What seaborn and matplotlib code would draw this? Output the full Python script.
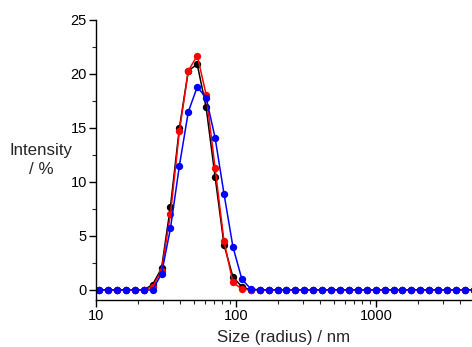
import numpy as np
import pandas as pd
import matplotlib
matplotlib.use('Agg')
import matplotlib.pyplot as plt
from matplotlib.ticker import MultipleLocator, LogLocator, NullFormatter
import seaborn as sns

# Size bins (radius, nm) of the instrument, from 10 nm up
size_nm = [10.52, 12.18, 14.11, 16.34, 18.92, 21.91, 25.37, 29.38, 34.02, 39.41,
           45.64, 52.85, 61.21, 70.89, 82.10, 95.06, 110.1, 127.5, 147.7, 171.0,
           198.0, 229.4, 265.6, 307.6, 356.2, 412.6, 477.8, 553.3, 640.8, 742.1,
           859.4, 995.0, 1152, 1335, 1546, 1790, 2073, 2401, 2780, 3220,
           3728, 4318, 5000]

zeros_tail = [0.0] * 26

black = [0, 0, 0, 0, 0, 0, 0.5, 2.0, 7.7, 15.0,
         20.3, 20.9, 16.9, 10.5, 4.2, 1.2, 0.3] + zeros_tail
red = [0, 0, 0, 0, 0, 0, 0.3, 1.8, 7.0, 14.7,
       20.3, 21.7, 18.1, 11.3, 4.5, 0.7, 0.1] + zeros_tail
blue = [0, 0, 0, 0, 0, 0, 0.0, 1.5, 5.7, 11.5,
        16.5, 18.8, 17.8, 14.1, 8.9, 4.0, 1.0, 0.1] + zeros_tail[:-1]

series = {'black': black, 'red': red, 'blue': blue}
colors = {'black': '#000000', 'red': '#ff0000', 'blue': '#0000ff'}

df = pd.concat([pd.DataFrame({'size': size_nm, 'intensity': v, 'run': k})
                for k, v in series.items()], ignore_index=True)

sns.set_style('ticks')
plt.rcParams['font.family'] = ['Liberation Sans', 'DejaVu Sans']

fig = plt.figure(figsize=(4.72, 3.47), dpi=100)
ax = fig.add_axes([96 / 472, 47 / 347, 376 / 472, 280 / 347])

sns.lineplot(data=df, x='size', y='intensity', hue='run', palette=colors,
             marker='o', markersize=5.3, markeredgewidth=0, linewidth=1.1,
             estimator=None, sort=False, legend=False, ax=ax)

ax.set_xscale('log')
ax.set_xlim(10, 10 ** (1 + 376 / 140))
ax.set_ylim(-0.93, 25)

ax.yaxis.set_major_locator(MultipleLocator(5))
ax.yaxis.set_minor_locator(MultipleLocator(2.5))
ax.xaxis.set_major_locator(LogLocator(base=10))
ax.xaxis.set_minor_locator(LogLocator(base=10, subs=np.arange(2, 10)))
ax.xaxis.set_minor_formatter(NullFormatter())
ax.set_xticks([10, 100, 1000])
ax.set_xticklabels(['10', '100', '1000'])

ax.tick_params(which='major', direction='out', length=5, width=1, labelsize=10.5, colors='black')
ax.tick_params(which='minor', direction='out', length=3, width=0.8)
ax.tick_params(axis='y', which='major', pad=1.5)
ax.tick_params(axis='x', which='major', pad=1.5)

for s in ['top', 'right']:
    ax.spines[s].set_visible(False)
for s in ['left', 'bottom']:
    ax.spines[s].set_linewidth(1.0)
    ax.spines[s].set_color('black')

ax.set_xlabel('Size (radius) / nm', fontsize=12.2, labelpad=5)
ax.set_ylabel('')
fig.text(41 / 472, 1 - 160 / 347, 'Intensity\n/ %', fontsize=12.2,
         ha='center', va='center', linespacing=1.3)

fig.savefig('out.png', dpi=100)
